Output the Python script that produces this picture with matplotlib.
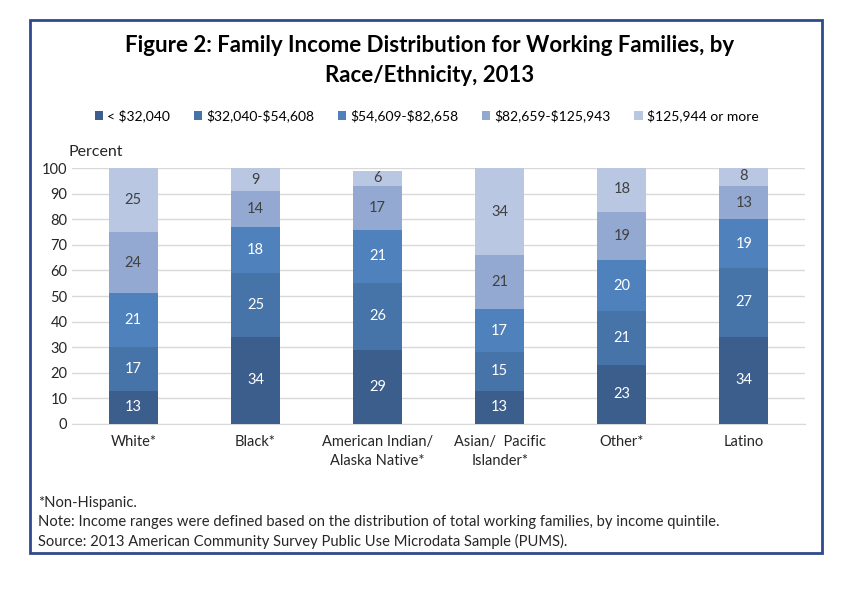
import matplotlib.pyplot as plt
import numpy as np
from matplotlib.patches import Rectangle

plt.rcParams['font.family'] = ['Lato', 'DejaVu Sans']

groups = ['White*', 'Black*', 'American Indian/\nAlaska Native*', 'Asian/  Pacific\nIslander*', 'Other*', 'Latino']
brackets = [r'< \$32,040', r'\$32,040-\$54,608', r'\$54,609-\$82,658', r'\$82,659-\$125,943', r'\$125,944 or more']
shares = [
    [13, 34, 29, 13, 23, 34],
    [17, 25, 26, 15, 21, 27],
    [21, 18, 21, 17, 20, 19],
    [24, 14, 17, 21, 19, 13],
    [25, 9, 6, 34, 18, 8],
]
colors = ['#3B5E8C', '#4673A8', '#4F81BD', '#93A9D1', '#B9C7E2']
text_colors = ['white', 'white', 'white', '#404040', '#404040']

fig = plt.figure(figsize=(8.5, 5.92), dpi=100)
ax = fig.add_axes([0.085, 0.284, 0.862, 0.432])

x = np.arange(len(groups))
bottom = np.zeros(len(groups))
for vals, c, tc, lab in zip(shares, colors, text_colors, brackets):
    vals = np.array(vals)
    ax.bar(x, vals, 0.4, bottom=bottom, color=c, label=lab, zorder=3)
    for xi, b, v in zip(x, bottom, vals):
        ax.text(xi, b + v / 2, str(v), ha='center', va='center', color=tc, fontsize=10.5, zorder=4)
    bottom += vals

ax.set_ylim(0, 100)
ax.set_xlim(-0.5, len(groups) - 0.5)
ax.set_yticks(range(0, 101, 10))
ax.set_xticks(x)
ax.set_xticklabels(groups, fontsize=10.5, color='#262626', linespacing=1.5)
ax.tick_params(axis='both', length=0, labelsize=10.5, colors='#262626')
ax.tick_params(axis='x', pad=8)
ax.grid(axis='y', color='#D9D9D9', linewidth=1, zorder=0)
for s in ['top', 'right', 'left']:
    ax.spines[s].set_visible(False)
ax.spines['bottom'].set_color('#D9D9D9')

fig.text(68 / 850, 1 - 152 / 592, 'Percent', fontsize=11.5, color='#262626', va='center')

fig.text(0.505, 1 - 46 / 592, 'Figure 2: Family Income Distribution for Working Families, by',
         ha='center', va='center', fontsize=16, fontweight='bold')
fig.text(0.505, 1 - 75 / 592, 'Race/Ethnicity, 2013',
         ha='center', va='center', fontsize=16, fontweight='bold')

fig.legend(loc='center', bbox_to_anchor=(0.502, 1 - 116 / 592), ncol=5, frameon=False,
           handlelength=0.6, handleheight=0.6, handletextpad=0.3, columnspacing=1.7,
           fontsize=10)

notes = ['*Non-Hispanic.',
         'Note: Income ranges were defined based on the distribution of total working families, by income quintile.',
         'Source: 2013 American Community Survey Public Use Microdata Sample (PUMS).']
for i, n in enumerate(notes):
    fig.text(38 / 850, 1 - (503 + 19 * i) / 592, n, fontsize=10.6, color='#262626', va='center')

fig.patches.append(Rectangle((30 / 850, 1 - 553 / 592), 792 / 850, 533 / 592,
                             transform=fig.transFigure, fill=False,
                             edgecolor='#2E4A8C', linewidth=2))

fig.savefig('out.png', dpi=100)
